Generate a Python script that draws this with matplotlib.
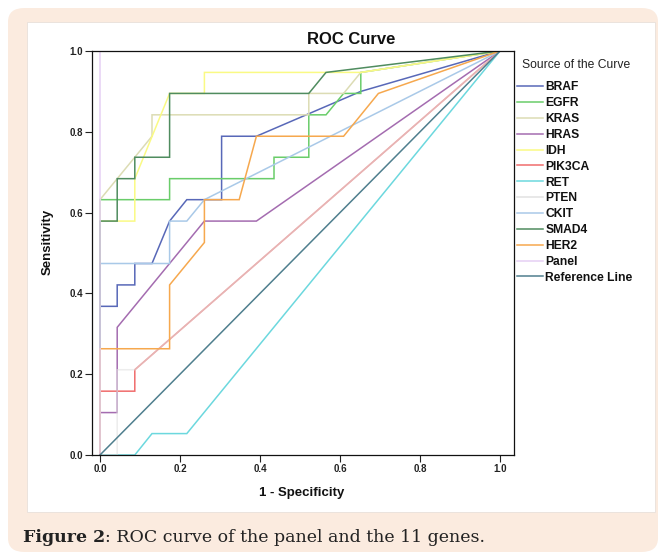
import matplotlib
matplotlib.use("Agg")
import matplotlib.pyplot as plt
from matplotlib.patches import FancyBboxPatch, Rectangle

plt.rcParams['font.family'] = ['Liberation Sans', 'DejaVu Sans']

# ROC points (1 - specificity, sensitivity)
braf_x = [0, 0, 0.043, 0.043, 0.087, 0.087, 0.130, 0.174, 0.217, 0.304, 0.304, 0.391, 0.652, 1]
braf_y = [0, 0.368, 0.368, 0.421, 0.421, 0.474, 0.474, 0.579, 0.632, 0.632, 0.789, 0.789, 0.900, 1]

egfr_x = [0, 0, 0.174, 0.174, 0.435, 0.435, 0.522, 0.522, 0.565, 0.609, 0.652, 0.652, 1]
egfr_y = [0, 0.632, 0.632, 0.684, 0.684, 0.737, 0.737, 0.842, 0.842, 0.895, 0.895, 0.947, 1]

kras_x = [0, 0, 0.130, 0.130, 0.522, 0.522, 0.609, 0.652, 1]
kras_y = [0, 0.632, 0.789, 0.842, 0.842, 0.895, 0.895, 0.947, 1]

hras_x = [0, 0, 0.043, 0.043, 0.261, 0.391, 1]
hras_y = [0, 0.105, 0.105, 0.316, 0.579, 0.579, 1]

idh_x = [0, 0, 0.087, 0.087, 0.174, 0.261, 0.261, 0.652, 1]
idh_y = [0, 0.579, 0.579, 0.684, 0.895, 0.895, 0.947, 0.947, 1]

pik3ca_x = [0, 0, 0.087, 0.087, 1]
pik3ca_y = [0, 0.158, 0.158, 0.211, 1]

ret_x = [0, 0.087, 0.130, 0.217, 1]
ret_y = [0, 0, 0.053, 0.053, 1]

pten_x = [0, 0.043, 0.043, 0.087, 1]
pten_y = [0, 0, 0.211, 0.211, 1]

ckit_x = [0, 0, 0.174, 0.174, 0.217, 0.261, 1]
ckit_y = [0, 0.474, 0.474, 0.579, 0.579, 0.632, 1]

smad4_x = [0, 0, 0.043, 0.043, 0.087, 0.087, 0.174, 0.174, 0.522, 0.565, 1]
smad4_y = [0, 0.579, 0.579, 0.684, 0.684, 0.737, 0.737, 0.895, 0.895, 0.947, 1]

her2_x = [0, 0, 0.174, 0.174, 0.261, 0.261, 0.348, 0.391, 0.609, 0.696, 1]
her2_y = [0, 0.263, 0.263, 0.421, 0.526, 0.632, 0.632, 0.789, 0.789, 0.895, 1]

panel_x = [0, 0, 1]
panel_y = [0, 1, 1]

ref_x = [0, 1]
ref_y = [0, 1]

names = ['BRAF', 'EGFR', 'KRAS', 'HRAS', 'IDH', 'PIK3CA', 'RET', 'PTEN',
         'CKIT', 'SMAD4', 'HER2', 'Panel', 'Reference Line']
xs = [braf_x, egfr_x, kras_x, hras_x, idh_x, pik3ca_x, ret_x, pten_x,
      ckit_x, smad4_x, her2_x, panel_x, ref_x]
ys = [braf_y, egfr_y, kras_y, hras_y, idh_y, pik3ca_y, ret_y, pten_y,
      ckit_y, smad4_y, her2_y, panel_y, ref_y]
colors = ['#5868b8', '#6acd6a', '#dcdcb4', '#a46cb0', '#fafa84', '#f06c6c',
          '#6cd8de', '#e2e2e2', '#a9c9e8', '#4f8c5f', '#f6a84e', '#e6d0f4',
          '#4f7f8e']
alphas = [1, 1, 1, 1, 1, 1, 1, 0.62, 1, 1, 1, 1, 1]

fig = plt.figure(figsize=(6.6, 5.56), dpi=100)
fig.patch.set_facecolor('white')

# peach frame and white panel behind the chart
fig.patches.append(FancyBboxPatch((8/660, 4/556), 650/660, 544/556,
                                  boxstyle="round,pad=0,rounding_size=0.025",
                                  transform=fig.transFigure, fc='#fbebdf',
                                  ec='none', zorder=-10))
fig.patches.append(Rectangle((27/660, 1 - 512/556), 628/660, 490/556,
                             transform=fig.transFigure, fc='white',
                             ec='#e8e0da', lw=0.6, zorder=-9))

ax = fig.add_axes([92/660, 101/556, 422/660, 404/556])
ax.set_facecolor('white')

for x, y, c, a, n in zip(xs, ys, colors, alphas, names):
    ax.plot(x, y, color=c, alpha=a, lw=1.1, label=n, solid_joinstyle='miter')

ax.set_xlim(-0.02, 1.035)
ax.set_ylim(0, 1.0)
ax.set_xticks([0, 0.2, 0.4, 0.6, 0.8, 1.0])
ax.set_yticks([0, 0.2, 0.4, 0.6, 0.8, 1.0])
ax.set_xticklabels(['0.0', '0.2', '0.4', '0.6', '0.8', '1.0'])
ax.set_yticklabels(['0.0', '0.2', '0.4', '0.6', '0.8', '1.0'])
ax.tick_params(direction='out', length=5, width=0.8, labelsize=7,
               colors='#222222', pad=1.5)
for lab in ax.get_xticklabels() + ax.get_yticklabels():
    lab.set_fontweight('bold')
for s in ax.spines.values():
    s.set_linewidth(0.9)
    s.set_color('#111111')

fig.text(351/660, 1 - 40/556, 'ROC Curve', ha='center', va='center',
         fontsize=12, fontweight='bold', color='#111111')
fig.text(302/660, 1 - 493/556, '1 - Specificity', ha='center', va='center',
         fontsize=9.5, fontweight='bold', color='#111111')
fig.text(48/660, 1 - 242/556, 'Sensitivity', ha='center', va='center',
         rotation=90, fontsize=9.5, fontweight='bold', color='#111111')

fig.text(522/660, 1 - 65/556, 'Source of the Curve', ha='left', va='center',
         fontsize=8.7, color='#222222')
leg = ax.legend(loc='upper left', bbox_to_anchor=(1.007, 0.925),
                frameon=False, fontsize=8.7, handlelength=2.15,
                handletextpad=0.2, labelspacing=0.32, borderpad=0,
                borderaxespad=0)
for t in leg.get_texts():
    t.set_fontweight('bold')
    t.set_color('#111111')
for h in leg.get_lines():
    h.set_alpha(1)

cap1 = fig.text(23/660, 1 - 546/556, 'Figure 2', ha='left', va='bottom',
                fontsize=12.5, fontweight='bold', family='DejaVu Serif',
                color='#222222')
fig.canvas.draw()
bb = cap1.get_window_extent()
fig.text(bb.x1 / fig.bbox.width, 1 - 546/556,
         ': ROC curve of the panel and the 11 genes.', ha='left', va='bottom',
         fontsize=12.5, family='DejaVu Serif', color='#222222')

fig.savefig('out.png', dpi=100)
